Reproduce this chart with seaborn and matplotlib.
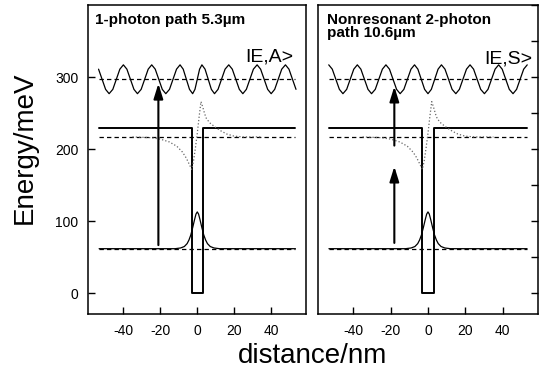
import matplotlib
matplotlib.use("Agg")
import numpy as np
import pandas as pd
import seaborn as sns
import matplotlib.pyplot as plt

# quantum well profile (distance in nm, energy in meV)
well_x = [-53, -3, -3, 3, 3, 53]
well_e = [230, 230, 0, 0, 230, 230]

# dashed energy levels
level_x = [-53, 53]
level_e = [62, 217, 297]

# ground state wavefunction
gs_x = [-53, -12, -9, -7, -5.5, -4.5, -3.5, -2.5, -1.5, -0.7, 0,
        0.7, 1.5, 2.5, 3.5, 4.5, 5.5, 7, 9, 12, 53]
gs_e = [62, 62, 63, 65, 69, 74, 81, 91, 102, 110, 113,
        110, 102, 91, 81, 74, 69, 65, 63, 62, 62]

# quasi-bound resonance (dotted)
res_x = [-35, -25, -20, -15, -11, -8, -6, -4.5, -3, -2, -1, 0, 1, 2,
         3, 4, 5, 7, 10, 13, 16, 20, 25, 35]
res_e = [217, 216, 214, 210, 204, 196, 188, 180, 172, 184, 202, 222, 245, 266,
         258, 249, 242, 236, 230, 225, 221, 218, 217, 217]

# antisymmetric continuum state |E,A>
wa_x = [-53.3, -51.4, -49.5, -47.6, -45.6, -43.7, -41.8, -39.9, -38.0, -36.1,
        -34.2, -32.3, -30.3, -28.4, -26.5, -24.6, -22.7, -20.8, -18.9, -17.0,
        -15.0, -13.1, -11.2, -9.3, -7.6, -5.9, -4.2, -2.5, -1.25, 0,
        1.25, 2.5, 4.2, 5.9, 7.6, 9.3, 11.2, 13.1, 15.0, 17.0,
        18.9, 20.8, 22.7, 24.6, 26.5, 28.4, 30.3, 32.3, 34.2, 36.1,
        38.0, 39.9, 41.8, 43.7, 45.6, 47.6, 49.5, 51.4, 53.3]
wa_e = [311, 297, 283, 277, 283, 297, 311, 317, 311, 297,
        283, 277, 283, 297, 311, 317, 311, 297, 283, 277,
        283, 297, 311, 317, 311, 297, 283, 277, 283, 297,
        311, 317, 311, 297, 283, 277, 283, 297, 311, 317,
        311, 297, 283, 277, 283, 297, 311, 317, 311, 297,
        283, 277, 283, 297, 311, 317, 311, 297, 283]

# symmetric continuum state |E,S>
ws_x = [-53.1, -51.2, -49.3, -47.4, -45.5, -43.5, -41.6, -39.7, -37.8, -35.9,
        -34.0, -32.1, -30.2, -28.2, -26.3, -24.4, -22.5, -20.6, -18.7, -16.8,
        -14.9, -12.9, -11.0, -9.1, -7.2, -5.4, -3.6, -1.8, 0,
        1.8, 3.6, 5.4, 7.2, 9.1, 11.0, 12.9, 14.9, 16.8, 18.7,
        20.6, 22.5, 24.4, 26.3, 28.2, 30.2, 32.1, 34.0, 35.9, 37.8,
        39.7, 41.6, 43.5, 45.5, 47.4, 49.3, 51.2, 53.1]
ws_e = [317, 311, 297, 283, 277, 283, 297, 311, 317, 311,
        297, 283, 277, 283, 297, 311, 317, 311, 297, 283,
        277, 283, 297, 311, 317, 311, 297, 283, 277,
        283, 297, 311, 317, 311, 297, 283, 277, 283, 297,
        311, 317, 311, 297, 283, 277, 283, 297, 311, 317,
        311, 297, 283, 277, 283, 297, 311, 317]

# photon arrows: x, start, end
arrow_left = [(-21, 67, 291)]
arrow_right = [(-18, 70, 176), (-18, 205, 287)]

titles = ["1-photon path 5.3µm", "Nonresonant 2-photon\npath 10.6µm"]
kets = ["IE,A>", "IE,S>"]

sns.set_style("ticks")
plt.rcParams['font.family'] = ['Liberation Sans', 'DejaVu Sans']
plt.rcParams['axes.unicode_minus'] = False
plt.rcParams['axes.edgecolor'] = 'black'
plt.rcParams['xtick.color'] = 'black'
plt.rcParams['ytick.color'] = 'black'
plt.rcParams['text.color'] = 'black'

fig = plt.figure(figsize=(5.41, 3.73), dpi=100)
ax1 = fig.add_axes([88/541, 1-314.3/373, 218/541, 309.3/373])
ax2 = fig.add_axes([317.7/541, 1-314.3/373, 220/541, 309.3/373])


def draw_panel(ax, wx, we, arrows):
    sns.lineplot(x=well_x, y=well_e, ax=ax, color='black', lw=1.4,
                 estimator=None, sort=False)
    for e in level_e:
        ax.plot(level_x, [e, e], color='black', lw=0.9, ls=(0, (3.5, 2.5)))
    sns.lineplot(x=gs_x, y=gs_e, ax=ax, color='black', lw=0.9,
                 estimator=None, sort=False)
    sns.lineplot(x=res_x, y=res_e, ax=ax, color='0.4', lw=0.9, ls=':',
                 estimator=None, sort=False)
    sns.lineplot(x=wx, y=we, ax=ax, color='black', lw=0.9,
                 estimator=None, sort=False)
    for xa, y0, y1 in arrows:
        ax.annotate('', xy=(xa, y1), xytext=(xa, y0),
                    arrowprops=dict(arrowstyle='-|>,head_length=9,head_width=2.8',
                                    mutation_scale=1, lw=1.5, color='black',
                                    shrinkA=0, shrinkB=0))
    ax.set_xlim(-59, 58.7)
    ax.set_ylim(-29, 400)
    ax.set_xticks([-40, -20, 0, 20, 40])
    ax.set_xlabel('')
    ax.set_ylabel('')
    for s in ax.spines.values():
        s.set_linewidth(1.1)
        s.set_visible(True)
        s.set_color('black')
    ax.tick_params(direction='in', length=5, width=1, labelsize=10, pad=7,
                   colors='black')


draw_panel(ax1, wa_x, wa_e, arrow_left)
draw_panel(ax2, ws_x, ws_e, arrow_right)

ax1.set_yticks([0, 100, 200, 300])
ax2.yaxis.tick_right()
ax2.set_yticks(list(range(0, 401, 50)))
ax2.tick_params(axis='y', labelright=False, labelleft=False)

ax1.text(0.032, 0.975, titles[0], transform=ax1.transAxes, ha='left', va='top',
         fontsize=11, fontweight='bold')
ax2.text(0.041, 0.975, titles[1], transform=ax2.transAxes, ha='left', va='top',
         fontsize=11, fontweight='bold', linespacing=0.95)
ax1.text(52, 322, kets[0], ha='right', va='baseline', fontsize=14)
ax2.text(55.7, 319, kets[1], ha='right', va='baseline', fontsize=14)

fig.text(0.046, 0.605, 'Energy/meV', rotation=90, ha='center', va='center', fontsize=20)
fig.text(0.577, 0.027, 'distance/nm', ha='center', va='baseline', fontsize=20)

fig.savefig('out.png', dpi=100)
